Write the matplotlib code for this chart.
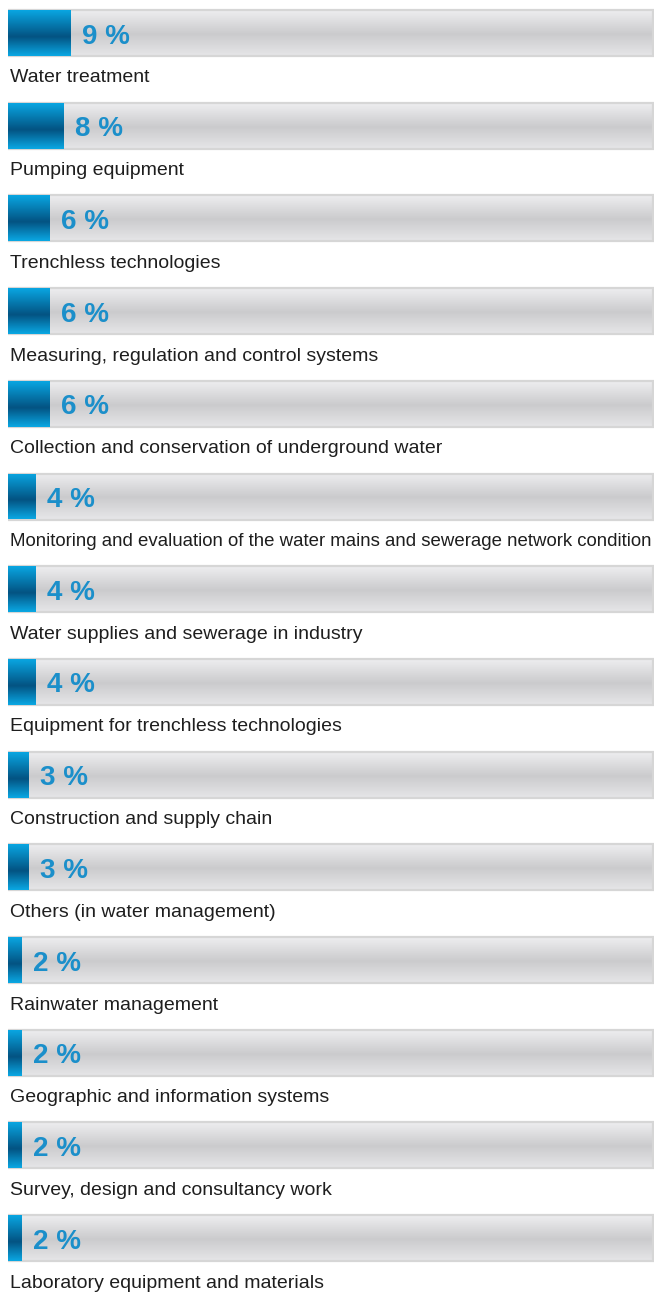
import numpy as np
import matplotlib
matplotlib.use("Agg")
import matplotlib.pyplot as plt
from matplotlib.colors import LinearSegmentedColormap

categories = [
    "Water treatment",
    "Pumping equipment",
    "Trenchless technologies",
    "Measuring, regulation and control systems",
    "Collection and conservation of underground water",
    "Monitoring and evaluation of the water mains and sewerage network condition",
    "Water supplies and sewerage in industry",
    "Equipment for trenchless technologies",
    "Construction and supply chain",
    "Others (in water management)",
    "Rainwater management",
    "Geographic and information systems",
    "Survey, design and consultancy work",
    "Laboratory equipment and materials",
]
values = [9, 8, 6, 6, 6, 4, 4, 4, 3, 3, 2, 2, 2, 2]
value_labels = [f"{v} %" for v in values]

W, H, DPI = 654, 1292, 100
fig = plt.figure(figsize=(W / DPI, H / DPI), dpi=DPI)
ax = fig.add_axes([8 / W, 0, 646 / W, 1])

px_per_unit_x = 6.95
xmax = 646 / px_per_unit_x
pitch = 92.7
top_c = 33.0
n = len(categories)
ylim = (n - 1 + (H - (top_c + (n - 1) * pitch)) / pitch, -top_c / pitch)
ax.set_xlim(0, xmax)
ax.set_ylim(*ylim)
ax.axis("off")

bar_h = 46 / pitch
y = np.arange(n)

grey_cmap = LinearSegmentedColormap.from_list(
    "g", [(0, "#eeeef0"), (0.52, "#cbcbcd"), (1.0, "#e6e6e8")])
blue_cmap = LinearSegmentedColormap.from_list(
    "b", [(0, "#09a6e2"), (0.58, "#035382"), (1.0, "#0aa8e4")])
grad = np.linspace(0, 1, 256).reshape(-1, 1)

track = ax.barh(y, [xmax - 0.2] * n, height=bar_h, left=0.0, color="none",
                edgecolor="#d6d6d6", linewidth=1.6, zorder=3)
bars = ax.barh(y, values, height=bar_h, left=0.0, color="none",
               edgecolor="none", zorder=4)

for patch in track.patches:
    x0, y0 = patch.get_x(), patch.get_y()
    w, h = patch.get_width(), patch.get_height()
    im = ax.imshow(grad, cmap=grey_cmap, aspect="auto",
                   extent=(x0, x0 + w, y0 + h, y0), zorder=2,
                   interpolation="bilinear")
    im.set_clip_path(patch)

for patch in bars.patches:
    x0, y0 = patch.get_x(), patch.get_y()
    w, h = patch.get_width(), patch.get_height()
    im = ax.imshow(grad, cmap=blue_cmap, aspect="auto",
                   extent=(x0, x0 + w, y0 + h, y0), zorder=5,
                   interpolation="bilinear")
    im.set_clip_path(patch)

ax.set_xlim(0, xmax)
ax.set_ylim(*ylim)

for i, (v, lab, cat) in enumerate(zip(values, value_labels, categories)):
    ax.text(v + 11 / px_per_unit_x, i + 10.5 / pitch, lab,
            family=["Liberation Sans", "DejaVu Sans"],
            fontweight="bold", fontsize=20, color="#1b8fca",
            va="baseline", ha="left", zorder=6)
    fs = 14 if len(cat) < 60 else 13.4
    ax.text(2 / px_per_unit_x, i + 49.5 / pitch, cat,
            family=["Liberation Sans", "DejaVu Sans"], fontsize=fs,
            color="#1e1e1e", va="baseline", ha="left", zorder=6)

fig.savefig("out.png", dpi=DPI)
